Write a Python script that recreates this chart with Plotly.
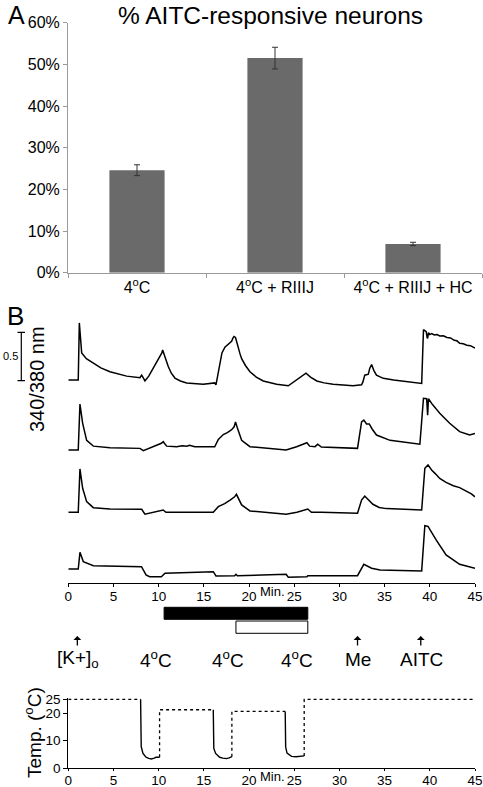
import plotly.graph_objects as go

# ---------------- Panel A data ----------------
categories = ["4<sup>o</sup>C", "4<sup>o</sup>C + RIIIJ", "4<sup>o</sup>C + RIIIJ + HC"]
pct_responsive = [0.246, 0.515, 0.069]
pct_error = [0.013, 0.026, 0.004]
pct_ticks = [0, 0.1, 0.2, 0.3, 0.4, 0.5, 0.6]

# ---------------- Panel B data (340/380 ratio, relative to each trace's start) ----------------
trace1_t = [0, 1.1, 1.22, 1.48, 2.0, 2.77, 3.6, 4.61, 5.5, 6.46, 7.93, 8.12, 8.25, 8.48, 8.9, 9.4, 9.96,
            10.2, 10.35, 10.44, 10.7, 11.06, 11.4, 11.8, 12.4, 13.1, 14.93, 16.04, 16.2, 16.34, 16.6, 16.78,
            17.0, 17.33, 17.7, 18.07, 18.2, 18.33, 18.5, 18.7, 19.0, 19.18, 19.6, 20.1, 20.8, 21.57, 23.05,
            24.34, 24.8, 25.26, 25.8, 26.3, 26.8, 27.5, 28.3, 29.3, 31.5, 32.45, 32.6, 32.8, 33.2, 33.35,
            33.56, 33.8, 34.1, 34.85, 36.0, 37.43, 39.1, 39.3, 39.6, 39.7, 39.76, 39.85, 40.0, 40.2, 40.5,
            40.8, 41.1, 41.5, 41.9, 42.3, 42.7, 43.0, 43.3, 43.7, 44.1, 44.5, 44.8, 45.0]
trace1_v = [0, 0, 0.59, 0.28, 0.22, 0.17, 0.125, 0.085, 0.06, 0.04, 0.024, 0.05, 0.03, -0.01, 0.04, 0.12, 0.22,
            0.26, 0.28, 0.31, 0.23, 0.14, 0.07, 0.02, -0.01, -0.03, -0.045, -0.025, -0.03, -0.05, 0.08, 0.19,
            0.28, 0.34, 0.37, 0.40, 0.43, 0.45, 0.44, 0.36, 0.27, 0.22, 0.15, 0.085, 0.03, -0.01, -0.045,
            -0.06, -0.03, 0.0, 0.04, 0.07, 0.03, -0.01, -0.03, -0.045, -0.06, -0.05, -0.02, 0.05, 0.06, 0.12,
            0.16, 0.10, 0.05, 0.017, 0.0, -0.017, -0.035, 0.52, 0.50, 0.44, 0.43, 0.49, 0.47, 0.48, 0.465,
            0.47, 0.455, 0.458, 0.44, 0.435, 0.41, 0.405, 0.38, 0.375, 0.36, 0.355, 0.335, 0.33]

trace2_t = [0, 1.1, 1.29, 1.59, 2.03, 2.77, 4.61, 7.93, 8.3, 9.4, 10.3, 10.5, 10.88, 11.98, 12.6, 13.1, 13.4,
            14.0, 16.2, 16.6, 17.15, 17.6, 18.07, 18.35, 18.5, 18.7, 19.18, 20.1, 21.9, 24.1, 25.26, 26.4,
            26.7, 27.3, 27.6, 28.0, 32.0, 32.45, 32.7, 33.0, 33.3, 33.6, 34.1, 35.6, 38.9, 39.3, 39.65, 39.76,
            39.85, 40.3, 41.1, 42.2, 43.3, 44.4, 45.0]
trace2_v = [0, 0, 0.476, 0.276, 0.10, 0.04, 0.024, 0.017, -0.007, 0.034, 0.07, 0.086, 0.04, 0.034, 0.045, 0.04, 0.05,
            0.034, 0.034, 0.11, 0.16, 0.18, 0.21, 0.24, 0.29, 0.23, 0.10, 0.034, 0.02, 0.0, 0.034, 0.075,
            0.04, 0.035, 0.06, 0.03, 0.017, 0.29, 0.31, 0.27, 0.27, 0.22, 0.155, 0.10, 0.06, 0.535, 0.53, 0.36,
            0.53, 0.47, 0.38, 0.276, 0.19, 0.155, 0.17]

trace3_t = [0, 1.1, 1.29, 1.59, 2.03, 2.77, 4.61, 8.12, 8.48, 9.5, 10.5, 10.8, 12.0, 16.04, 16.6, 17.3, 17.9,
            18.4, 18.6, 18.9, 19.18, 20.1, 22.0, 24.1, 25.3, 26.5, 26.9, 28.0, 32.0, 32.45, 32.8, 33.2, 33.7,
            34.4, 35.2, 39.1, 39.45, 39.8, 40.2, 40.6, 41.1, 41.8, 42.6, 43.3, 44.0, 44.6, 45.0]
trace3_v = [0, 0, 0.448, 0.248, 0.11, 0.048, 0.034, 0.031, -0.02, 0.0, 0.024, 0.0, 0.0, 0.0, 0.058, 0.09, 0.127,
            0.16, 0.186, 0.12, 0.076, 0.014, 0.0, -0.02, 0.0, 0.034, 0.0, 0.0, -0.01, 0.127, 0.168, 0.13, 0.083,
            0.05, 0.038, 0.024, 0.455, 0.49, 0.437, 0.40, 0.35, 0.31, 0.275, 0.255, 0.22, 0.19, 0.16]

trace4_t = [0, 1.1, 1.29, 1.66, 2.77, 7.93, 8.1, 8.6, 9.0, 10.3, 10.7, 16.04, 16.34, 18.4, 18.55, 18.7, 24.1,
            24.34, 26.4, 26.5, 32.0, 32.7, 33.56, 34.5, 39.1, 39.45, 39.8, 40.7, 41.8, 43.3, 45.0]
trace4_v = [0, 0, 0.172, 0.076, 0.034, 0.024, 0.024, -0.062, -0.08, -0.08, -0.045, -0.028, -0.072, -0.07, -0.055,
            -0.07, -0.055, -0.086, -0.08, -0.069, -0.069, 0.048, 0.007, -0.01, -0.02, 0.448, 0.44, 0.30, 0.145,
            0.048, 0.007]

trace_times = [trace1_t, trace2_t, trace3_t, trace4_t]
trace_values = [trace1_v, trace2_v, trace3_v, trace4_v]
trace_offsets = [2.096, 1.372, 0.728, 0.142]  # vertical stacking of the four cells
scale_bar_ratio = 0.5
time_ticks = [0, 5, 10, 15, 20, 25, 30, 35, 40, 45]

# Drug application bars (min)
riiij_span = [10.6, 26.5]
hc_span = [18.55, 26.5]

# Event labels
event_labels = ["[K+]<sub>o</sub>", "4<sup>o</sup>C", "4<sup>o</sup>C", "4<sup>o</sup>C", "Me", "AITC"]
event_label_t = [1.1, 9.7, 17.7, 25.3, 32.0, 39.1]
arrow_t = [1.0, 32.0, 39.0]

# ---------------- Temperature data ----------------
temp_dash_t = [0, 8.0, None, 10.1, 10.1, 16.04, None, 18.1, 18.1, 24.0, None, 26.1, 26.1, 45]
temp_dash_v = [25, 25, None, 4.0, 21.2, 21.2, None, 4.2, 20.6, 20.6, None, 4.5, 25, 25]
temp_cool_t = [8.0, 8.07, 8.26, 8.6, 8.9, 9.2, 9.5, 9.7, 10.1, None,
               16.04, 16.1, 16.3, 16.75, 17.1, 17.5, 17.8, 18.1, None,
               24.0, 24.05, 24.2, 24.7, 25.2, 25.6, 26.1]
temp_cool_v = [25, 7.8, 5.4, 4.0, 3.6, 3.4, 3.7, 4.0, 4.0, None,
               21.2, 7.2, 5.4, 4.0, 3.7, 3.5, 3.8, 4.2, None,
               20.6, 7.7, 5.5, 4.3, 4.2, 4.3, 4.5]
temp_ticks = [0, 10, 20, 25]

FONT = "Liberation Sans, Arial, sans-serif"
W, H = 483, 787


def py(y):
    return 1 - y / H


def px(x):
    return x / W


fig = go.Figure()

# Panel A bars
fig.add_trace(go.Bar(
    x=categories, y=pct_responsive, width=0.4, marker_color="#6a6a6a", marker_line_width=0,
    error_y=dict(type="data", array=pct_error, color="#333333", thickness=1, width=3),
    xaxis="x", yaxis="y", showlegend=False))

# Panel B traces
for t, v, off in zip(trace_times, trace_values, trace_offsets):
    fig.add_trace(go.Scatter(x=t, y=[val + off for val in v], mode="lines",
                             line=dict(color="black", width=1.5), xaxis="x2", yaxis="y2", showlegend=False))

# Temperature
fig.add_trace(go.Scatter(x=temp_dash_t, y=temp_dash_v, mode="lines", connectgaps=False,
                         line=dict(color="black", width=1.3, dash="3px,3px"),
                         xaxis="x3", yaxis="y3", showlegend=False))
fig.add_trace(go.Scatter(x=temp_cool_t, y=temp_cool_v, mode="lines", connectgaps=False,
                         line=dict(color="black", width=1.4),
                         xaxis="x3", yaxis="y3", showlegend=False))

shapes = []
# drug bars
shapes.append(dict(type="rect", xref="x2", yref="paper", x0=riiij_span[0], x1=riiij_span[1],
                   y0=py(619.3), y1=py(607.3), fillcolor="black", line=dict(color="black", width=1)))
shapes.append(dict(type="rect", xref="x2", yref="paper", x0=hc_span[0], x1=hc_span[1],
                   y0=py(633.3), y1=py(621), fillcolor="white", line=dict(color="black", width=1)))
# scale bar
sb0 = trace_offsets[0] - 0.007
shapes.append(dict(type="line", xref="paper", yref="y2", x0=px(21.3), x1=px(21.3), y0=sb0,
                   y1=sb0 + scale_bar_ratio, line=dict(color="black", width=1.2)))
for yy in (sb0, sb0 + scale_bar_ratio):
    shapes.append(dict(type="line", xref="paper", yref="y2", x0=px(17.5), x1=px(25), y0=yy, y1=yy,
                       line=dict(color="black", width=1.2)))


def txt(text, x, y, size, xref="paper", yref="paper", angle=0, xanchor="center", yanchor="middle"):
    return dict(text=text, x=x, y=y, xref=xref, yref=yref, showarrow=False, textangle=angle,
                xanchor=xanchor, yanchor=yanchor, font=dict(size=size, family=FONT, color="black"))


ann = []
ann.append(txt("A", px(16), py(15), 25))
ann.append(txt("% AITC-responsive neurons", px(270), py(16), 24.5))
ann.append(txt("B", px(15), py(316), 26))
ann.append(txt("340/380 nm", px(37), py(379), 20, angle=-90))
ann.append(txt("0.5", px(0.5), sb0 + scale_bar_ratio / 2, 11, yref="y2", xanchor="left"))
ann.append(txt("Min.", px(272), py(591), 13))
ann.append(txt("Min.", px(272), py(776), 13))
ann.append(txt("Temp. (<sup>o</sup>C)", px(33), py(733), 19, angle=-90))
for lab, t in zip(event_labels, event_label_t):
    ann.append(txt(lab, t, py(659), 19, xref="x2"))
for t in arrow_t:
    ann.append(dict(text="", x=t, y=py(636), xref="x2", yref="paper", showarrow=True, ax=0, ay=11,
                    arrowhead=1, arrowsize=1, arrowwidth=1.3, arrowcolor="black"))

fig.update_layout(
    template="none",
    width=W, height=H, margin=dict(l=0, r=0, t=0, b=0, autoexpand=False),
    paper_bgcolor="white", plot_bgcolor="white",
    font=dict(family=FONT, color="black"),
    shapes=shapes, annotations=ann, bargap=0.6,
    xaxis=dict(domain=[px(68), px(482)], anchor="y", type="category", range=[-0.5, 2.5], automargin=False,
               showline=True, linecolor="#9a9a9a", linewidth=1, ticks="outside", tickson="boundaries",
               ticklen=4, tickcolor="#9a9a9a", showgrid=False, tickfont=dict(size=16, family=FONT)),
    yaxis=dict(domain=[py(272.7), py(22.7)], anchor="x", range=[0, 0.6], tickvals=pct_ticks, automargin=False,
               tickformat=".0%", showline=True, linecolor="#9a9a9a", linewidth=1, ticks="outside",
               ticklen=4, tickcolor="#9a9a9a", showgrid=False, zeroline=False,
               tickfont=dict(size=16, family=FONT)),
    xaxis2=dict(domain=[px(68.3), px(475)], anchor="y2", range=[0, 45], tickvals=time_ticks, automargin=False,
                showline=True, linecolor="black", linewidth=1, ticks="outside", ticklen=3,
                ticklabelstandoff=-2,
                tickcolor="black", showgrid=False, zeroline=False, tickfont=dict(size=13.5, family=FONT)),
    yaxis2=dict(domain=[py(582.7), py(315)], anchor="x2", range=[0, 2.768], visible=False, automargin=False),
    xaxis3=dict(domain=[px(68.3), px(475)], anchor="y3", range=[0, 45], tickvals=time_ticks, automargin=False,
                showline=True, linecolor="black", linewidth=1, ticks="outside", ticklen=2,
                ticklabelstandoff=-3,
                tickcolor="black", showgrid=False, zeroline=False, tickfont=dict(size=13.5, family=FONT)),
    yaxis3=dict(domain=[py(768.3), py(697.9)], anchor="x3", range=[0, 25.5], tickvals=temp_ticks,
                automargin=False,
                showline=True, linecolor="black", linewidth=1, ticks="outside", ticklen=4,
                tickcolor="black", showgrid=False, zeroline=False, tickfont=dict(size=13.5, family=FONT)),
)

fig.write_html("out.html", config={"displayModeBar": False},
               post_script="document.body.style.margin='0';document.body.style.overflow='hidden';")
